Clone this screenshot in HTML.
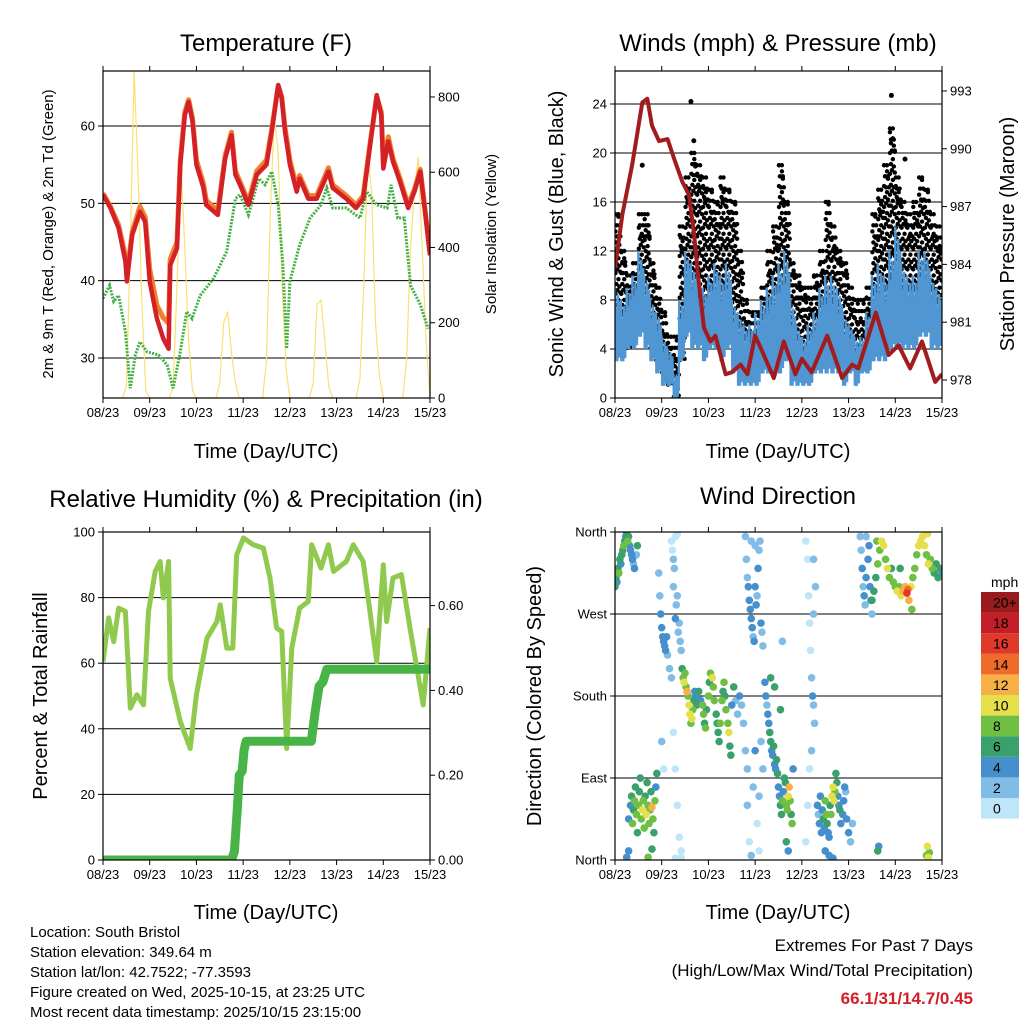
<!DOCTYPE html>
<html><head><meta charset="utf-8"><style>
body{margin:0;background:#fff}
svg{display:block;font-family:"Liberation Sans",sans-serif}
</style></head><body>
<svg id="c" width="1024" height="1024" viewBox="0 0 1024 1024" xmlns="http://www.w3.org/2000/svg">
<rect width="1024" height="1024" fill="#fff"/>
<g id="g"></g>
<text x="266" y="51" font-size="24" text-anchor="middle">Temperature (F)</text>
<text x="778" y="51" font-size="24" text-anchor="middle">Winds (mph) &amp; Pressure (mb)</text>
<text x="266" y="507" font-size="24" text-anchor="middle">Relative Humidity (%) &amp; Precipitation (in)</text>
<text x="778" y="504" font-size="24" text-anchor="middle">Wind Direction</text>
<text x="266" y="458" font-size="20" text-anchor="middle">Time (Day/UTC)</text>
<text x="778" y="458" font-size="20" text-anchor="middle">Time (Day/UTC)</text>
<text x="266" y="919" font-size="20" text-anchor="middle">Time (Day/UTC)</text>
<text x="778" y="919" font-size="20" text-anchor="middle">Time (Day/UTC)</text>
<text transform="translate(53,234) rotate(-90)" font-size="15" text-anchor="middle">2m &amp; 9m T (Red, Orange) &amp; 2m Td (Green)</text>
<text transform="translate(496,234) rotate(-90)" font-size="15" text-anchor="middle">Solar Insolation (Yellow)</text>
<text transform="translate(563,234) rotate(-90)" font-size="20" text-anchor="middle">Sonic Wind &amp; Gust (Blue, Black)</text>
<text transform="translate(1014,234) rotate(-90)" font-size="20" text-anchor="middle">Station Pressure (Maroon)</text>
<text transform="translate(47,696) rotate(-90)" font-size="20" text-anchor="middle">Percent &amp; Total Rainfall</text>
<text transform="translate(541,696) rotate(-90)" font-size="20" text-anchor="middle">Direction (Colored By Speed)</text>
<g font-size="15">
<text x="30" y="937">Location: South Bristol</text>
<text x="30" y="957">Station elevation: 349.64 m</text>
<text x="30" y="977">Station lat/lon: 42.7522; -77.3593</text>
<text x="30" y="997">Figure created on Wed, 2025-10-15, at 23:25 UTC</text>
<text x="30" y="1017">Most recent data timestamp: 2025/10/15 23:15:00</text>
</g>
<text x="973" y="951" font-size="17" text-anchor="end">Extremes For Past 7 Days</text>
<text x="973" y="976" font-size="17" text-anchor="end">(High/Low/Max Wind/Total Precipitation)</text>
<text x="973" y="1004" font-size="17" font-weight="bold" fill="#d0202a" text-anchor="end">66.1/31/14.7/0.45</text>
</svg>
<script>
var dayLabels=["08/23","09/23","10/23","11/23","12/23","13/23","14/23","15/23"];
var tempH=[0,3.8,8,11.5,12.3,15,19,21.7,24,27.7,31,33.7,34.5,38,39.7,42,44,46,48,51.6,53,59,62.8,66,68,70.4,74.7,79,84,86.7,90,91.8,93.5,96,99.5,101,105.5,109.8,115.8,118,125,130,133.7,137,140.6,143,144,146.6,149,152.6,156.8,160,163,165,168];
var tempRed=[51.1,49.4,46.8,42.5,39.9,45.9,48.9,47.6,39.9,35.1,32.5,31.2,42,44.2,55,61.4,63.1,60.6,55,52,49.8,48.5,55.8,58.8,53.7,52.4,49.8,53.7,55,59.3,65.3,63.6,59.3,55,51.5,53.2,50.6,50.6,54.1,52,50.6,49.4,50.6,57.1,64,61.4,54.5,58,55.4,52.8,49.4,51.5,54.1,49.8,43.3];
var tempOrange=[51.3,49.6,47.2,43.2,40.8,46.3,49.6,48.2,41.5,36.8,35.2,34.5,42.8,45,55.6,61.8,63.4,61,55.6,52.6,50.4,49,56.2,59.2,54.2,52.8,50.2,54.2,55.6,59.6,65.2,63.8,59.8,55.6,52,53.6,51,51,54.6,52.4,51,49.8,51,57.4,63.8,61.8,55.2,58.6,55.8,53.2,49.8,51.8,54.4,50.2,43.6];
var dewH=[0,3.4,5.5,8,11.5,14,16.6,19,22.6,28.5,33,36,39.7,43,45.7,50,56.8,63.6,68,70.4,74.7,80,83.3,86.7,90,92.4,94.4,96,101,106.4,112,115,118,125,132,135.5,140.6,146,148,151.4,154.8,158,163,167];
var dewpt=[37.7,39.4,37.3,38.1,33.4,26.1,30.4,32.1,30.8,30.4,29.1,26.1,30.8,36,35.1,38.1,40.3,43.8,50.6,51.1,48.5,53.2,52.4,54.1,49.8,42,31.2,39.9,44.6,48.1,49.8,52,49.4,49.4,48.1,51.5,49.8,49.4,52.4,48.1,48.1,39.4,36.9,33.8];
var solar=[0,0,0,0,0,0,30,400,870,600,250,20,0,0,0,0,0,0,30,300,620,400,150,20,0,0,0,0,0,0,40,200,230,120,40,0,0,0,0,0,0,0,100,500,750,650,300,80,0,0,0,0,0,0,40,250,260,150,30,0,0,0,0,0,0,0,50,300,650,550,200,60,0,0,0,0,0,0,100,400,550,640,400,150,0];
var presH=[0,3.8,8.9,14,16.6,19,22.6,27,30.3,34.5,38,40.5,43,45.7,49,51.6,56.8,60,64.5,68,72,75.6,81.6,86.7,92.7,96,101,109,116.7,121.8,125,134,140.6,145.7,151.6,157.7,164.5,168];
var pressure=[983.8,986.6,989.2,992.4,992.6,991.2,990.4,990.5,989.5,988.3,987.6,985.7,983.1,980.7,980,980.3,978.3,978.4,978.8,978.3,980.3,979.5,978.1,980,978.3,979.1,978.4,980.3,978.1,978.8,978.6,981.5,979.3,979.8,978.6,980,977.9,978.3];
var windHi=[9,8,9,10,12,10,8,7,5,4,2,8,12,11,10,9,10,11,10,11,8,7,6,6,7,8,9,10,11,12,8,6,5,6,7,9,10,10,9,7,6,5,5,7,10,11,10,12,14,11,10,10,12,12,10,9];
var windLo=[3,3,4,4,5,4,3,2,1,1,0,3,5,4,4,3,4,4,3,4,2,1,1,1,1,2,2,2,2,3,1,1,1,1,2,2,2,2,2,1,2,1,2,2,3,3,3,4,4,4,4,4,5,5,4,4];
var gustHi=[15,12,10,11,15,15,11,9,7,5,5,14,18,20,19,18,17,16,18,17,16,12,8,7,7,9,12,14,19,16,11,10,9,9,10,12,16,14,12,11,9,8,8,9,15,17,19,22,18,16,15,16,18,17,15,14];
var gustLo=[5,5,4,5,7,6,4,3,2,1,0,3,7,8,8,7,7,6,7,7,6,4,3,2,2,3,4,5,7,6,4,3,2,3,3,4,6,6,5,4,3,3,3,3,5,6,7,8,7,7,7,7,8,7,7,6];
var gustOutH=[14,39,40.5,142,149];
var gustOutV=[19,24.2,21,24.7,19.5];
var rhH=[0,2.9,5.5,8,11.5,14,17.4,20.8,23.4,26.8,29.4,31,33.7,34.5,39.7,44.8,48,53.4,58.5,60.2,63.6,66.7,68.7,72.2,77.3,82.4,85.8,89.2,91.8,94.4,97,101,105.5,107.2,112,115.8,118.4,125,128.6,133.7,140.6,144,145.7,149,153.3,157.7,164.5,168];
var rh=[60.5,73.8,66.6,76.8,75.8,46.3,50.4,47.3,75.8,88,91,79.9,91,55.4,42.2,34,50.4,67.6,72.7,77.8,64.6,64.6,93,98.2,96.1,95.1,86,70.7,69.7,34,64.6,76.8,78.8,96.1,89,96.1,88,91,96.1,91,60.5,90,72.7,86,87,70.7,47.3,70.7];
var precipH=[0,66,67.5,69,70,71.5,72.5,73.5,107,109,111,113,115,168];
var precip=[0,0,0.02,0.12,0.2,0.21,0.26,0.28,0.28,0.35,0.41,0.42,0.45,0.45];
var dirHour=[0,0.5,1,1.5,2,2.5,3,3.5,4,4.5,5,5.5,6,6.5,7,7.5,8,8.5,9,9.5,10,11,11.5,
6,7,7,8,8.5,9,9.5,10,10.5,11,11.5,12,12.5,13,13.5,14,14.5,15,15.5,16,16.5,17,17.5,18,18.5,19,19.5,20,20.5,21,21.5,19,17,
22.5,23,23.5,24,24.5,25,25.5,26,26.5,27,28,29,30,30.5,31,31.5,32,32.5,33,33.5,34,31,32,29,29.5,30,
24,25,30,31,32,33,34,31,34,
34.5,35,35.5,36,36.5,37,37.5,38,38.5,39,39.5,40,40.5,41,41.5,42,43,44,45,45.5,46,46.5,47,48,48.5,49,50,50.5,51,52,52.5,53,53.5,54,55,55.5,56,56.5,57,58,58.5,59,59.5,60,61,62,63,64,65,66,
67,67.5,68,68.5,69,69.5,70,70.5,71,71.5,72,72.5,73,73.5,74,74.5,75,75.5,76,70,72,
67,68,68,69,70,71,72,73,74,75,76,74,
77,77.5,78,78.5,79,79.5,80,80.5,81,81.5,82,82.5,83,83.5,84,84.5,85,85.5,86,86.5,87,87.5,88,88.5,89,89.5,90,90.5,91,91.5,88,89,80,82,85,86,
98,99,99.5,100,100.5,101,101.5,102,102.5,101,100,99,98,102,103,102,
104,104.5,105,105.5,106,106.5,107,107.5,108,108.5,109,109.5,110,110.5,111,111.5,112,112.5,113,113.5,114,114.5,115,115.5,116,117,117.5,118,118.5,119,120,121,122,110,108,112,
126,126.5,127,127.5,128,128.5,129,130,130.5,131,131.5,132,129,
132,133,134,135,136,137,138,139,140,141,142,143,144,145,146,147,148,149,150,150.5,151,152,153,154,155,156,157,158,159,160,161,162,163,164,165,166,167,168,134.5,146.5,160.5,152.5,
135,135.5,160,160.5,161,161.5];
var dirDeg=[300,310,305,320,315,330,325,335,340,345,350,355,358,350,355,345,340,335,330,325,320,335,345,
3,10,45,60,70,40,55,65,80,50,30,60,75,90,45,55,65,35,70,50,85,60,40,55,75,58,45,30,65,80,95,12,3,
315,290,270,255,245,240,235,230,245,225,210,200,300,320,265,280,290,250,260,240,230,355,358,350,340,330,
130,100,140,100,60,25,10,2,3,
210,200,195,205,190,185,180,170,160,150,155,165,175,185,180,170,185,175,170,160,150,145,165,180,195,205,200,190,175,160,150,140,130,150,175,185,195,180,165,150,140,125,115,170,190,175,160,180,170,150,
355,330,310,300,285,275,265,255,245,240,300,280,290,320,340,350,260,250,235,350,345,
120,100,60,20,5,80,120,40,10,130,100,70,
195,180,170,160,150,140,130,120,115,125,105,100,110,95,80,70,60,50,65,75,90,85,60,55,70,80,65,50,40,100,20,10,200,190,165,240,
350,330,290,260,230,200,180,170,150,120,100,60,20,330,300,270,
60,50,40,70,30,55,45,35,65,50,40,30,25,60,50,70,80,65,75,95,85,70,60,55,40,50,65,80,75,45,30,20,40,5,10,2,
355,340,320,300,290,280,310,330,345,300,285,270,355,
285,295,310,325,340,350,345,330,320,310,320,305,300,295,300,290,295,300,293,297,285,300,310,320,335,345,350,355,345,335,325,330,320,315,325,310,320,315,350,320,358,275,
10,15,5,15,3,8];
var dirSpeed=[6,6,4,6,8,6,4,6,6,8,6,4,6,8,6,4,4,4,4,2,4,2,6,
4,4,4,4,6,8,6,8,6,8,6,8,6,6,8,10,8,8,6,10,6,8,8,8,6,12,8,6,8,4,6,6,8,
2,2,4,4,4,4,4,4,4,2,2,2,2,2,4,2,2,2,2,2,2,0,0,0,0,2,
2,0,0,0,0,0,0,0,0,
6,8,10,8,8,12,8,10,10,8,10,8,6,4,4,6,6,4,8,8,6,8,6,8,6,8,10,8,8,6,6,6,6,8,8,6,8,6,8,8,10,6,6,4,6,2,2,4,2,2,
2,2,2,4,4,4,4,4,2,4,4,4,2,4,2,2,4,2,2,2,2,
2,2,2,0,2,2,4,0,0,2,2,2,
4,4,2,4,4,6,6,4,4,6,4,4,6,6,4,4,6,6,8,4,6,6,8,8,10,12,8,6,8,4,6,4,6,6,6,2,
0,0,0,0,0,2,4,2,2,2,0,0,0,2,2,2,
4,2,4,4,4,4,6,4,8,8,6,4,4,6,8,10,10,10,8,6,6,4,4,6,4,4,4,4,2,4,4,2,2,4,4,4,
2,2,4,2,4,2,4,4,4,4,4,2,2,
6,6,6,8,8,10,10,8,10,8,6,8,8,10,8,10,12,12,16,14,12,10,8,8,8,10,10,10,10,8,10,8,8,6,6,6,6,4,8,6,10,8,
6,4,8,10,10,8];
var speedColors=["#bfe6f8","#80bce6","#4590cc","#3aa06c","#6fbf44","#e5df4c","#f7b046","#ef6b2c","#e0392a","#c41f28","#9a1b1e"];
var speedLabels=["0","2","4","6","8","10","12","14","16","18","20+"];

var NS="http://www.w3.org/2000/svg";
var G=document.getElementById("g");
function mk(tag,attrs,parent){var e=document.createElementNS(NS,tag);for(var k in attrs)e.setAttribute(k,attrs[k]);(parent||G).appendChild(e);return e;}
function panel(x0,x1,y0,y1){return {x0:x0,x1:x1,y0:y0,y1:y1,hx:function(h){return x0+h/168*(x1-x0);}};}
var P1=panel(103,430,71,398),P2=panel(615,942,71,398),P3=panel(103,430,532,860),P4=panel(615,942,532,860);
function t2y(t){return 358-(t-30)*7.733;}
function s2y(s){return 398-s*0.3763;}
function w2y(w){return 398-w*12.25;}
function p2y(p){return 380-(p-978)*19.27;}
function rh2y(r){return 860-r*3.28;}
function pr2y(p){return 860-p*424;}
function d2y(d){return 860-d*0.9111;}

function frame(P,name){
  var r=mk("rect",{x:P.x0,y:P.y0,width:P.x1-P.x0,height:P.y1-P.y0,fill:"none",stroke:"#000","stroke-width":1.2});
  
  
  for(var i=0;i<dayLabels.length;i++){
    var x=P.hx(i*24);
    mk("line",{x1:x,x2:x,y1:P.y1,y2:P.y1+5,stroke:"#000"});
    mk("line",{x1:x,x2:x,y1:P.y0,y2:P.y0-5,stroke:"#000"});
    var t=mk("text",{x:x,y:P.y1+19,"font-size":13,"text-anchor":"middle"});
    t.textContent=dayLabels[i];
    
    
  }
}
function grid(P,ys){ys.forEach(function(y){mk("line",{x1:P.x0,x2:P.x1,y1:y,y2:y,stroke:"#000","stroke-width":1});});}
function yTicks(P,vals,labels,fn,side,name){
  for(var i=0;i<vals.length;i++){
    var y=fn(vals[i]);
    if(side==="l"){mk("line",{x1:P.x0-5,x2:P.x0,y1:y,y2:y,stroke:"#000"});}
    else{mk("line",{x1:P.x1,x2:P.x1+5,y1:y,y2:y,stroke:"#000"});}
    var t=mk("text",{x:side==="l"?P.x0-8:P.x1+8,y:y+4.5,"font-size":13,"text-anchor":side==="l"?"end":"start"});
    t.textContent=labels[i];
    
    
  }
}
function clip(id,P){var d=mk("clipPath",{id:id});mk("rect",{x:P.x0,y:P.y0,width:P.x1-P.x0,height:P.y1-P.y0},d);}
clip("c1",P1);clip("c2",P2);clip("c3",P3);clip("c4",P4);
function poly(P,hs,vs,fn,attrs,name,cp){
  var pts=hs.map(function(h,i){return P.hx(h).toFixed(1)+","+fn(vs[i]).toFixed(1);}).join(" ");
  attrs.points=pts;attrs.fill="none";attrs["clip-path"]="url(#"+cp+")";
  var e=mk("polyline",attrs);
  
  
  return e;
}

/* Panel 1: temperature */
grid(P1,[30,40,50,60].map(t2y));
var solarH=solar.map(function(_,i){return i*2;});
poly(P1,solarH,solar,s2y,{stroke:"#f9e070","stroke-width":1.2},"solar-line","c1");
poly(P1,dewH,dewpt,t2y,{stroke:"#44b044","stroke-width":3,"stroke-dasharray":"2 1.3"},"dewpoint-line","c1");
poly(P1,tempH,tempOrange,t2y,{stroke:"#f07f2e","stroke-width":5,"stroke-linejoin":"round"},"temp-9m-line","c1");
poly(P1,tempH,tempRed,t2y,{stroke:"#d42027","stroke-width":4.5,"stroke-linejoin":"round"},"temp-2m-line","c1");
frame(P1,"temp");
yTicks(P1,[30,40,50,60],["30","40","50","60"],t2y,"l","temp-y");
yTicks(P1,[0,200,400,600,800],["0","200","400","600","800"],s2y,"r","solar-y");

/* Panel 2: winds */
grid(P2,[4,8,12,16,20,24].map(w2y));
var gg=mk("g",{"clip-path":"url(#c2)",fill:"#000"});


var offs=[0.1,0.9,0.4,1.3,0.7,0.2];
for(var i=0;i<gustHi.length;i++){
  for(var k=0;k<6;k++){
    var gh=i*3+k*0.5+0.25;
    var gtop=gustHi[i]-(k%3)*0.9;
    for(var v=gustLo[i]+offs[k];v<=gtop;v+=1.7){
      mk("circle",{cx:P2.hx(gh),cy:w2y(v),r:2.2},gg);
    }
    mk("circle",{cx:P2.hx(gh),cy:w2y(gtop),r:2.2},gg);
  }
}
for(var i=0;i<gustOutH.length;i++){mk("circle",{cx:P2.hx(gustOutH[i]),cy:w2y(gustOutV[i]),r:2.5},gg);}
var wH=[],wV=[];
var wf=[1,0,0.7,0.1,0.5,0,0.9,0.2,0.6,0.05,0.8,0.3];
for(var i=0;i<windHi.length;i++){for(var k=0;k<12;k++){wH.push(i*3+k*0.25);wV.push(windLo[i]+wf[k]*(windHi[i]-windLo[i]));}}
poly(P2,wH,wV,w2y,{stroke:"#4f96d2","stroke-width":2.4},"wind-speed-line","c2");
poly(P2,presH,pressure,p2y,{stroke:"#a11c1e","stroke-width":4,"stroke-linejoin":"round"},"pressure-line","c2");
frame(P2,"wind");
yTicks(P2,[0,4,8,12,16,20,24],["0","4","8","12","16","20","24"],w2y,"l","wind-y");
yTicks(P2,[978,981,984,987,990,993],["978","981","984","987","990","993"],p2y,"r","pressure-y");

/* Panel 3: RH & precip */
grid(P3,[20,40,60,80].map(rh2y));
poly(P3,rhH,rh,rh2y,{stroke:"#8fca4e","stroke-width":5,"stroke-linejoin":"round"},"humidity-line","c3");
poly(P3,precipH,precip,pr2y,{stroke:"#48b448","stroke-width":9,"stroke-linejoin":"round","stroke-linecap":"round"},"precip-line","c3");
frame(P3,"rh");
yTicks(P3,[0,20,40,60,80,100],["0","20","40","60","80","100"],rh2y,"l","rh-y");
yTicks(P3,[0,0.2,0.4,0.6],["0.00","0.20","0.40","0.60"],pr2y,"r","precip-y");

/* Panel 4: wind direction */
grid(P4,[90,180,270].map(d2y));
var dg=mk("g",{"clip-path":"url(#c4)"});


var order=dirSpeed.map(function(_,i){return i;}).sort(function(a,b){return dirSpeed[a]-dirSpeed[b];});
order.forEach(function(i){
  var ci=Math.min(10,Math.floor(dirSpeed[i]/2));
  mk("circle",{cx:P4.hx(dirHour[i]),cy:d2y(dirDeg[i]),r:3.8,fill:speedColors[ci]},dg);
});
frame(P4,"dir");
yTicks(P4,[360,270,180,90,0],["North","West","South","East","North"],d2y,"l","dir-y");

/* legend */
var lt=mk("text",{x:991,y:587,"font-size":14});lt.textContent="mph";


for(var i=0;i<11;i++){
  var y=592+(10-i)*20.6;
  var r=mk("rect",{x:981,y:y,width:38,height:20.6,fill:speedColors[i]});
  
  
  var t=mk("text",{x:993,y:y+15.5,"font-size":14});t.textContent=speedLabels[i];
  
  
}
</script>
</body></html>
